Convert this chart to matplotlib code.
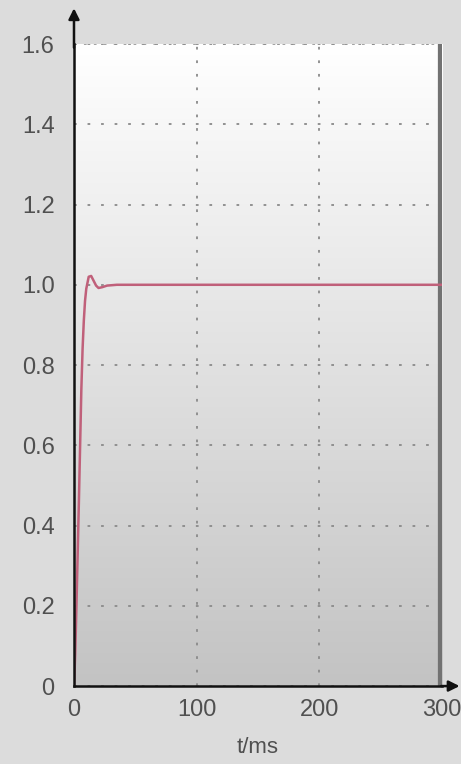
import numpy as np
import matplotlib
matplotlib.use("Agg")
import matplotlib.pyplot as plt
from matplotlib.colors import LinearSegmentedColormap

# step response
t_ms = [0, 1, 2, 3, 4, 5, 6, 7, 8, 9, 10, 12, 14, 16, 18, 20, 23, 27, 35, 60, 300]
resp = [0.0, 0.08, 0.2, 0.33, 0.46, 0.6, 0.74, 0.84, 0.91, 0.96, 0.99, 1.02, 1.022, 1.01, 0.998, 0.992, 0.994, 0.998, 1.0, 1.0, 1.0]

x_ticks = [0, 100, 200, 300]
y_ticks = [0, 0.2, 0.4, 0.6, 0.8, 1.0, 1.2, 1.4, 1.6]
y_labels = ["0", "0.2", "0.4", "0.6", "0.8", "1.0", "1.2", "1.4", "1.6"]

plt.rcParams["font.family"] = ["Liberation Sans", "DejaVu Sans"]

fig = plt.figure(figsize=(4.61, 7.64), dpi=100)
fig.patch.set_facecolor("#dcdcdc")
ax = fig.add_axes([0.1605, 0.102, 0.7985, 0.8404])

# vertical gradient background (white top -> gray bottom)
bg = LinearSegmentedColormap.from_list("bg", ["#c3c3c3", "#ffffff"])
grad = np.linspace(1.0, 0.0, 256).reshape(-1, 1)
ax.imshow(grad, extent=[0, 300, 0, 1.6], aspect="auto", cmap=bg,
          vmin=0, vmax=1, zorder=0, origin="upper")

ax.set_xlim(0, 300)
ax.set_ylim(0, 1.6)
ax.set_xticks(x_ticks)
ax.set_yticks(y_ticks)
ax.set_yticklabels(y_labels)
ax.grid(True, color="#8a8a8a", linestyle=(0, (1.5, 6)), linewidth=1.3, zorder=1)
ax.axhline(1.6, color="#9a9a9a", linestyle=(0, (1.5, 4)), linewidth=1.3, zorder=1)

ax.plot(t_ms, resp, color="#c0607a", linewidth=1.8, zorder=3)

# right border at 300 ms
ax.axvline(299, ymax=0.995, color="#727272", linewidth=4.5, zorder=2)

for s in ["top", "right"]:
    ax.spines[s].set_visible(False)
ax.spines["left"].set_color("#111111")
ax.spines["bottom"].set_color("#111111")
ax.spines["left"].set_linewidth(1.8)
ax.spines["bottom"].set_linewidth(1.8)
ax.spines["left"].set_zorder(4)
ax.spines["bottom"].set_zorder(4)

# axis arrows
ax.annotate("", xy=(0, 1.06), xytext=(0, 0.99), xycoords="axes fraction",
            arrowprops=dict(arrowstyle="-|>", color="#111111", lw=1.8,
                            mutation_scale=16), annotation_clip=False)
ax.annotate("", xy=(1.055, 0), xytext=(0.99, 0), xycoords="axes fraction",
            arrowprops=dict(arrowstyle="-|>", color="#111111", lw=1.8,
                            mutation_scale=16), annotation_clip=False)

ax.tick_params(length=0, labelsize=17, labelcolor="#505050")
ax.tick_params(axis="y", pad=14)
ax.tick_params(axis="x", pad=9)
ax.set_xlabel("t/ms", fontsize=16, color="#505050")
ax.xaxis.set_label_coords(0.5, -0.079)

fig.savefig("out.png", dpi=100, facecolor=fig.get_facecolor())
